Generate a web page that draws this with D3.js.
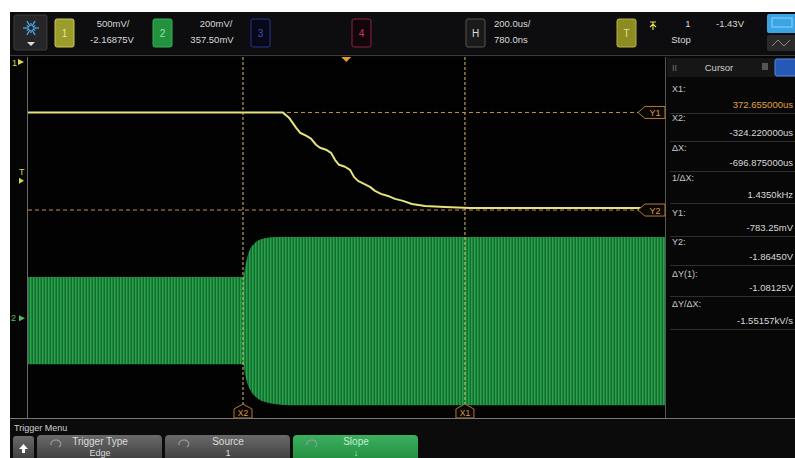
<!DOCTYPE html>
<html>
<head>
<meta charset="utf-8">
<script src="https://cdn.jsdelivr.net/npm/d3@7"></script>
<style>
  body { margin: 0; background: #fff; }
  svg { display: block; font-family: "Liberation Sans", Arial, sans-serif; }
</style>
</head>
<body>
<script>
// scope settings
var hScale = 200, hCenter = 0.78;          // us/div, us
var ch1Scale = 0.5, ch1Offset = -2.16875;  // V/div, V
var ch2Scale = 0.2, ch2Offset = 0.3575;    // V/div, V

// channel 1 (yellow) trace
var ch1Time  = [-999.2, -198.6, -179.8, -157.8, -145.2, -126.4, -110.7, -95.0, -82.5, -63.6, -47.9, -35.4, -22.8, -4.0, 11.7, 24.3, 36.8, 55.7, 74.5, 90.2, 109.1, 131.0, 153.0, 178.1, 206.4, 247.2, 310.0, 388.5, 1000.8];
var ch1Volts = [-0.785, -0.785, -0.841, -0.952, -1.008, -1.041, -1.074, -1.141, -1.174, -1.196, -1.230, -1.308, -1.363, -1.385, -1.419, -1.497, -1.541, -1.574, -1.608, -1.652, -1.685, -1.708, -1.741, -1.763, -1.797, -1.819, -1.830, -1.841, -1.841];

// channel 2 (green) carrier envelope
var ch2Time  = [-999.2, -324.2, -317.9, -311.6, -302.2, -289.6, -273.9, -251.9, -220.6, -176.6, 1000.8];
var ch2Upper = [0.182, 0.182, 0.222, 0.266, 0.306, 0.329, 0.346, 0.355, 0.360, 0.360, 0.360];
var ch2Lower = [-0.204, -0.204, -0.249, -0.284, -0.316, -0.342, -0.360, -0.373, -0.382, -0.386, -0.386];

// cursors
var cursorX = [{name: "X1", t: 372.655}, {name: "X2", t: -324.22}];
var cursorY = [{name: "Y1", v: -0.78325}, {name: "Y2", v: -1.8645}];

// cursor readout panel
var readLabels = ["X1:", "X2:", "\u0394X:", "1/\u0394X:", "Y1:", "Y2:", "\u0394Y(1):", "\u0394Y/\u0394X:"];
var readValues = ["372.655000us", "-324.220000us", "-696.875000us", "1.4350kHz", "-783.25mV", "-1.86450V", "-1.08125V", "-1.55157kV/s"];
var readLabelY = [92, 121, 151, 181, 216, 245, 277, 307];
var readValueY = [108, 136, 166, 198, 231, 260, 291, 324];

var width = 795, height = 458;
var plotL = 28, plotR = 665, plotT = 57, plotB = 418;

var svg = d3.select("body").append("svg")
    .attr("width", width)
    .attr("height", height);

var defs = svg.append("defs");
var pat = defs.append("pattern")
    .attr("id", "carrier")
    .attr("patternUnits", "userSpaceOnUse")
    .attr("width", 3).attr("height", 10);
pat.append("rect").attr("width", 3).attr("height", 10).attr("fill", "#1c863b");
pat.append("rect").attr("x", 0).attr("width", 1).attr("height", 10).attr("fill", "#28a24c");
pat.append("rect").attr("x", 2).attr("width", 1).attr("height", 10).attr("fill", "#156e2f");

var grad = defs.append("linearGradient").attr("id", "btn").attr("x1", 0).attr("y1", 0).attr("x2", 0).attr("y2", 1);
grad.append("stop").attr("offset", 0).attr("stop-color", "#6a6a6a");
grad.append("stop").attr("offset", 1).attr("stop-color", "#3a3a3a");
var gradG = defs.append("linearGradient").attr("id", "btnG").attr("x1", 0).attr("y1", 0).attr("x2", 0).attr("y2", 1);
gradG.append("stop").attr("offset", 0).attr("stop-color", "#3cb060");
gradG.append("stop").attr("offset", 1).attr("stop-color", "#1f8a3c");

// screen
svg.append("rect").attr("x", 10).attr("y", 12).attr("width", width - 10).attr("height", height - 12).attr("fill", "#050505");

// ---------- top bar ----------
var topBar = svg.append("g");
topBar.append("rect").attr("x", 10).attr("y", 12).attr("width", width - 10).attr("height", 43).attr("fill", "#0d0d0f");
topBar.append("line").attr("x1", 10).attr("x2", width).attr("y1", 55.5).attr("y2", 55.5).attr("stroke", "#3a3a3a");

// logo
topBar.append("rect").attr("x", 14).attr("y", 15).attr("width", 33).attr("height", 35).attr("rx", 2)
    .attr("fill", "#262628").attr("stroke", "#3c3c40");
d3.range(12).forEach(function(i) {
  var a = i / 12 * 2 * Math.PI, r = i % 2 ? 5 : 8;
  topBar.append("line")
    .attr("x1", 31 + Math.cos(a) * 2).attr("y1", 28 + Math.sin(a) * 2)
    .attr("x2", 31 + Math.cos(a) * r).attr("y2", 28 + Math.sin(a) * r)
    .attr("stroke", "#4aa6e8").attr("stroke-width", 1.3);
});
topBar.append("path").attr("d", "M27,42 L35,42 L31,46 Z").attr("fill", "#ddd");

function chanBox(x, w, fill, stroke, label, color) {
  topBar.append("rect").attr("x", x).attr("y", 19).attr("width", w).attr("height", 28).attr("rx", 2)
    .attr("fill", fill).attr("stroke", stroke);
  topBar.append("text").attr("x", x + w / 2).attr("y", 37).attr("text-anchor", "middle")
    .attr("font-size", 10).attr("fill", color).text(label);
}
chanBox(55, 19, "#9c9c2c", "#c8c85a", "1", "#e4e49a");
chanBox(153, 19, "#22923f", "#36b055", "2", "#9be0aa");
chanBox(251, 19, "#07081a", "#28358a", "3", "#3a52b0");
chanBox(352, 19, "#12060a", "#8c2244", "4", "#c83a5c");
chanBox(466, 19, "#1a1a1a", "#555", "H", "#ddd");
chanBox(617, 19, "#8c8c22", "#b4b44a", "T", "#e0e090");

function topText(x, y, s, anchor) {
  topBar.append("text").attr("x", x).attr("y", y).attr("text-anchor", anchor || "middle")
    .attr("font-size", 9.5).attr("fill", "#d8d8d8").text(s);
}
topText(113, 27, "500mV/");
topText(112, 43, "-2.16875V");
topText(216, 27, "200mV/");
topText(212, 43, "357.50mV");
topText(494, 27, "200.0us/", "start");
topText(494, 43, "780.0ns", "start");
topText(688, 27, "1");
topText(730, 27, "-1.43V");
topText(681, 43, "Stop");
topBar.append("path").attr("d", "M650,22 L656,22 M653,22 L653,30 M650,27 L653,24 L656,27")
    .attr("stroke", "#d8d848").attr("fill", "none").attr("stroke-width", 1.2);
topBar.append("rect").attr("x", 767).attr("y", 14).attr("width", 30).attr("height", 19).attr("rx", 2).attr("fill", "#3aa4e4");
topBar.append("rect").attr("x", 772).attr("y", 18).attr("width", 20).attr("height", 9).attr("fill", "none").attr("stroke", "#8fd0f8");
topBar.append("rect").attr("x", 767).attr("y", 35).attr("width", 30).attr("height", 16).attr("rx", 2).attr("fill", "#2a2a2a");
topBar.append("path").attr("d", "M772,46 L778,40 L784,46 L790,40").attr("stroke", "#888").attr("fill", "none");

// ---------- plot ----------
var x = d3.scaleLinear().domain([hCenter - 5 * hScale, hCenter + 5 * hScale]).range([plotL, plotR]);
var y1 = d3.scaleLinear().domain([ch1Offset - 4 * ch1Scale, ch1Offset + 4 * ch1Scale]).range([plotB, plotT]);
var y2 = d3.scaleLinear().domain([ch2Offset - 4 * ch2Scale, ch2Offset + 4 * ch2Scale]).range([plotB, plotT]);

var plot = svg.append("g");
plot.append("rect").attr("x", plotL).attr("y", plotT).attr("width", plotR - plotL).attr("height", plotB - plotT).attr("fill", "#020202");
plot.append("line").attr("x1", plotL - 0.5).attr("x2", plotL - 0.5).attr("y1", plotT).attr("y2", plotB).attr("stroke", "#6a6a6a");
plot.append("line").attr("x1", plotR + 0.5).attr("x2", plotR + 0.5).attr("y1", plotT).attr("y2", plotB).attr("stroke", "#555");

var envData = ch2Time.map(function(t, i) { return {t: t, hi: ch2Upper[i], lo: ch2Lower[i]}; });
var area = d3.area()
    .x(function(d) { return x(d.t); })
    .y0(function(d) { return y2(d.lo); })
    .y1(function(d) { return y2(d.hi); })
    .curve(d3.curveMonotoneX);
plot.append("path").datum(envData).attr("d", area).attr("fill", "url(#carrier)");

// cursor lines
cursorX.forEach(function(c) {
  plot.append("line").attr("x1", x(c.t)).attr("x2", x(c.t)).attr("y1", plotT).attr("y2", plotB - 12)
    .attr("stroke", "#d6c070").attr("stroke-width", 1).attr("stroke-dasharray", "3,2");
});
cursorY.forEach(function(c) {
  plot.append("line").attr("x1", plotL).attr("x2", plotR - 26).attr("y1", y1(c.v)).attr("y2", y1(c.v))
    .attr("stroke", "#c89048").attr("stroke-width", 1).attr("stroke-dasharray", "4,3");
});

var ch1Data = ch1Time.map(function(t, i) { return {t: t, v: ch1Volts[i]}; });
var line = d3.line()
    .x(function(d) { return x(d.t); })
    .y(function(d) { return y1(d.v); });
plot.append("path").datum(ch1Data).attr("d", line)
    .attr("fill", "none").attr("stroke", "#e6e27c").attr("stroke-width", 2).attr("stroke-linejoin", "round");

// cursor tags
cursorY.forEach(function(c) {
  var yy = y1(c.v);
  plot.append("path")
    .attr("d", "M" + (plotR - 27) + "," + yy + " L" + (plotR - 20) + "," + (yy - 6) + " L" + plotR + "," + (yy - 6) +
               " L" + plotR + "," + (yy + 6) + " L" + (plotR - 20) + "," + (yy + 6) + " Z")
    .attr("fill", "#0a0703").attr("stroke", "#b07a38");
  plot.append("text").attr("x", plotR - 10).attr("y", yy + 3.5).attr("text-anchor", "middle")
    .attr("font-size", 9).attr("fill", "#d49a4a").text(c.name);
});
cursorX.forEach(function(c) {
  var xx = x(c.t);
  plot.append("path")
    .attr("d", "M" + xx + "," + (plotB - 14) + " L" + (xx + 9) + "," + (plotB - 9) + " L" + (xx + 9) + "," + plotB +
               " L" + (xx - 9) + "," + plotB + " L" + (xx - 9) + "," + (plotB - 9) + " Z")
    .attr("fill", "#0a0703").attr("stroke", "#b07a38");
  plot.append("text").attr("x", xx).attr("y", plotB - 2).attr("text-anchor", "middle")
    .attr("font-size", 8.5).attr("fill", "#d49a4a").text(c.name);
});

// trigger position marker
plot.append("path").attr("d", "M" + (x(0) - 5) + "," + plotT + " L" + (x(0) + 5) + "," + plotT + " L" + x(0) + "," + (plotT + 5) + " Z")
    .attr("fill", "#e89a30");

// left ground / trigger markers
svg.append("text").attr("x", 12).attr("y", 66).attr("font-size", 9).attr("fill", "#d8d850").text("1");
svg.append("path").attr("d", "M18,59 L24,62 L18,65 Z").attr("fill", "#d8d850");
svg.append("text").attr("x", 19).attr("y", y1(-1.43) + 4).attr("font-size", 9).attr("fill", "#d8d850").text("T");
svg.append("path").attr("d", "M19," + (y1(-1.43) + 7) + " L24," + (y1(-1.43) + 10) + " L19," + (y1(-1.43) + 13) + " Z").attr("fill", "#d8d850");
svg.append("text").attr("x", 11).attr("y", y2(0) + 3).attr("font-size", 9).attr("fill", "#48c068").text("2");
svg.append("path").attr("d", "M19," + (y2(0) - 3) + " L25," + y2(0) + " L19," + (y2(0) + 3) + " Z").attr("fill", "#48c068");

// ---------- cursor panel ----------
var panel = svg.append("g");
panel.append("rect").attr("x", plotR + 1).attr("y", plotT).attr("width", width - plotR).attr("height", plotB - plotT).attr("fill", "#070707");
panel.append("rect").attr("x", plotR + 2).attr("y", plotT + 1).attr("width", width - plotR - 2).attr("height", 19).attr("fill", "#161616");
panel.append("text").attr("x", 672).attr("y", 71).attr("font-size", 9).attr("fill", "#777").text("II");
panel.append("text").attr("x", 719).attr("y", 71).attr("text-anchor", "middle").attr("font-size", 9.5).attr("fill", "#cfcfcf").text("Cursor");
panel.append("rect").attr("x", 762).attr("y", 63).attr("width", 6).attr("height", 7).attr("fill", "#555");
panel.append("rect").attr("x", 775).attr("y", 59).attr("width", 22).attr("height", 17).attr("rx", 2).attr("fill", "#2658b8").attr("stroke", "#5a86d8");

readLabels.forEach(function(s, i) {
  panel.append("text").attr("x", 672).attr("y", readLabelY[i]).attr("font-size", 9).attr("fill", "#c8c8c8").text(s);
  panel.append("text").attr("x", 793).attr("y", readValueY[i]).attr("text-anchor", "end").attr("font-size", 9.5)
    .attr("fill", i === 0 ? "#e0a040" : "#d8d8d8").text(readValues[i]);
  panel.append("line").attr("x1", 670).attr("x2", width).attr("y1", readValueY[i] + 5.5).attr("y2", readValueY[i] + 5.5)
    .attr("stroke", "#2e2e2e");
});

// ---------- bottom menu ----------
var menu = svg.append("g");
menu.append("line").attr("x1", 10).attr("x2", width).attr("y1", plotB + 0.5).attr("y2", plotB + 0.5).attr("stroke", "#777");
menu.append("rect").attr("x", 10).attr("y", plotB + 1).attr("width", width - 10).attr("height", height - plotB).attr("fill", "#0b0b0b");
menu.append("text").attr("x", 14).attr("y", 431).attr("font-size", 9).attr("fill", "#cfcfcf").text("Trigger Menu");

menu.append("rect").attr("x", 13).attr("y", 436).attr("width", 21).attr("height", 26).attr("rx", 3).attr("fill", "url(#btn)");
menu.append("path").attr("d", "M19,449 L23.5,444 L28,449 Z M22,449 L25,449 L25,453 L22,453 Z").attr("fill", "#fff");

var buttons = [
  {x: 37, label: "Trigger Type", sub: "Edge", fill: "url(#btn)", color: "#dcdcdc"},
  {x: 165, label: "Source", sub: "1", fill: "url(#btn)", color: "#dcdcdc"},
  {x: 293, label: "Slope", sub: "\u2193", fill: "url(#btnG)", color: "#c8eccf"}
];
buttons.forEach(function(b) {
  menu.append("rect").attr("x", b.x).attr("y", 435).attr("width", 125).attr("height", 28).attr("rx", 4).attr("fill", b.fill);
  menu.append("path").attr("d", "M" + (b.x + 14) + "," + 445 + " a5,4 0 1,1 8,2").attr("fill", "none").attr("stroke", "#999").attr("stroke-width", 1.2);
  menu.append("text").attr("x", b.x + 63).attr("y", 445).attr("text-anchor", "middle").attr("font-size", 10).attr("fill", b.color).text(b.label);
  menu.append("text").attr("x", b.x + 63).attr("y", 455.5).attr("text-anchor", "middle").attr("font-size", 9).attr("fill", b.color).text(b.sub);
});
</script>
</body>
</html>
